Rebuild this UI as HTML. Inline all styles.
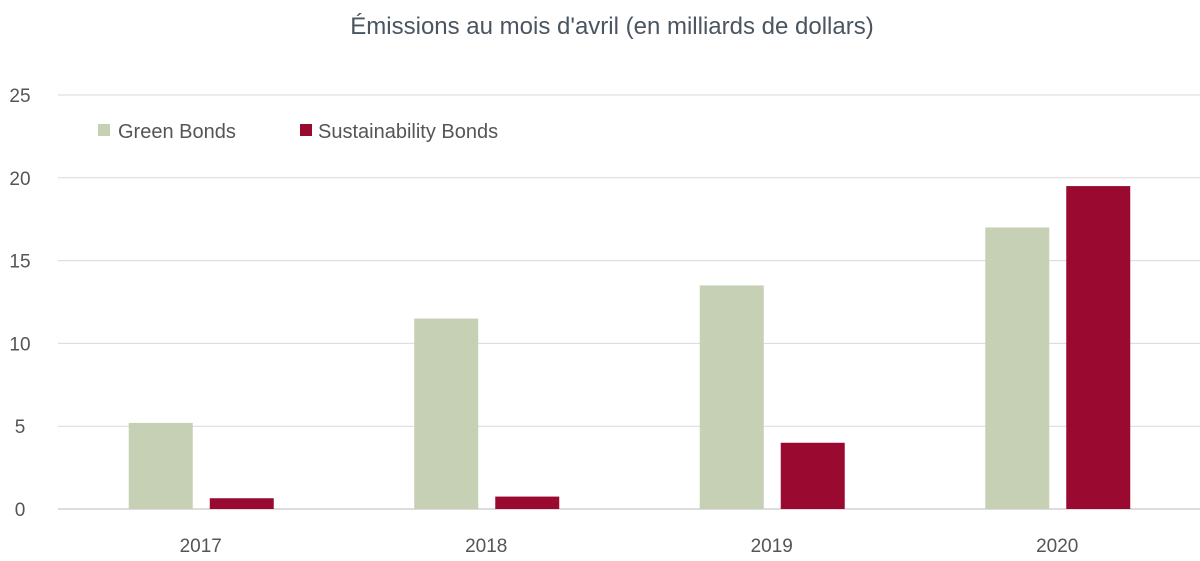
<!DOCTYPE html>
<html><head><meta charset="utf-8"><style>
body{margin:0;background:#fff;}
svg{display:block;font-family:"Liberation Sans",sans-serif;}
</style></head><body>
<svg id="chart" width="1200" height="561">
<text x="612" y="34" text-anchor="middle" font-size="24" fill="#4a5560">Émissions au mois d'avril (en milliards de dollars)</text>
<g id="grid"></g><g id="bars"></g><g id="xlabels"></g>
<g>
<rect x="98" y="124" width="12" height="12" fill="#c6d0b4"/>
<text x="118" y="138" font-size="20" fill="#555">Green Bonds</text>
<rect x="300" y="124" width="12" height="12" fill="#9a0a30"/>
<text x="318" y="138" font-size="20" fill="#555">Sustainability Bonds</text>
</g>
</svg>
<script>
const categories=["2017","2018","2019","2020"];
const greenValues=[5.2,11.5,13.5,17.0];
const sustValues=[0.65,0.75,4.0,19.5];
const yTicks=[0,5,10,15,20,25];
const ns="http://www.w3.org/2000/svg";
const x0=58,x1=1200,yBase=509,yTop=95,yMax=25;
const y=v=>yBase-(yBase-yTop)*v/yMax;
const step=(x1-x0)/categories.length;
const cx=i=>x0+step*(i+0.5);
function mk(t,a,p){const e=document.createElementNS(ns,t);for(const k in a)e.setAttribute(k,a[k]);p.appendChild(e);return e;}
const grid=document.getElementById('grid');
yTicks.forEach(t=>{
 const l=mk('line',{x1:x0,x2:x1,y1:y(t),y2:y(t),stroke:t===0?'#bbb':'#d9d9d9','stroke-width':1},grid);
 
 
 const tx=mk('text',{x:20,y:y(t)+7,'text-anchor':'middle','font-size':19,fill:'#555'},grid);
 tx.textContent=t;
 
 
});
const bars=document.getElementById('bars'),xl=document.getElementById('xlabels');
categories.forEach((c,i)=>{
 const g=mk('rect',{x:cx(i)-72,y:y(greenValues[i]),width:64,height:yBase-y(greenValues[i]),fill:'#c6d0b4'},bars);
 
 
 const r=mk('rect',{x:cx(i)+9,y:y(sustValues[i]),width:64,height:yBase-y(sustValues[i]),fill:'#9a0a30'},bars);
 
 
 const t=mk('text',{x:cx(i),y:552,'text-anchor':'middle','font-size':19,fill:'#555'},xl);
 t.textContent=c;
 
 
});
</script>
</body></html>
